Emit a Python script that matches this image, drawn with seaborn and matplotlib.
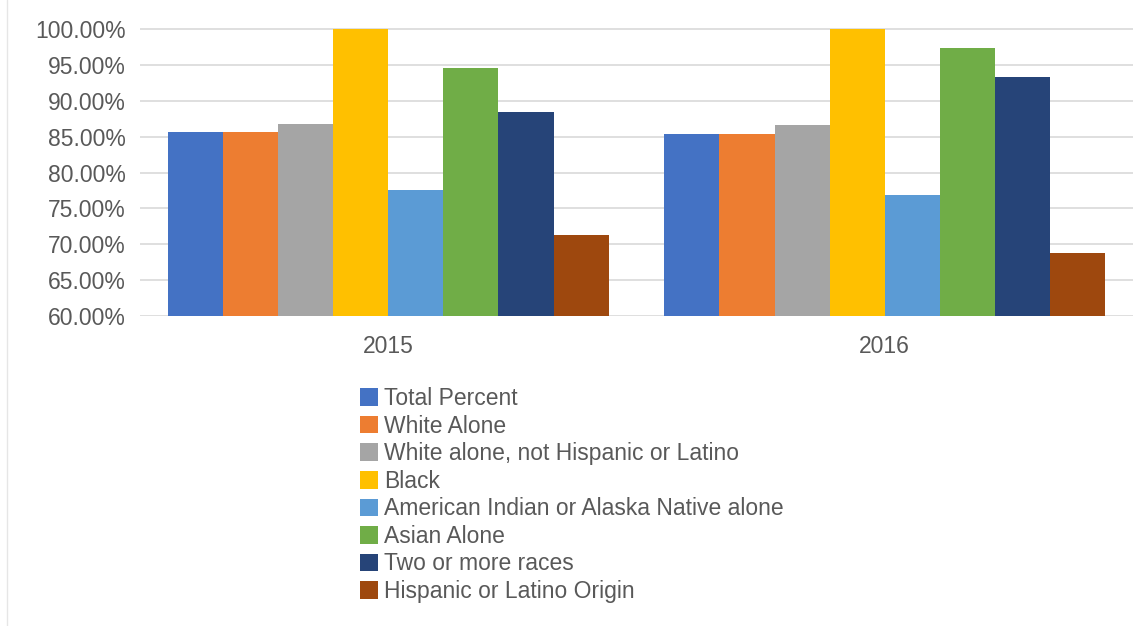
import matplotlib
matplotlib.use("Agg")
import matplotlib.pyplot as plt
import seaborn as sns
import pandas as pd
from matplotlib.lines import Line2D
from matplotlib.ticker import FuncFormatter, MultipleLocator

years = ["2015", "2016"]
groups = [
    "Total Percent",
    "White Alone",
    "White alone, not Hispanic or Latino",
    "Black",
    "American Indian or Alaska Native alone",
    "Asian Alone",
    "Two or more races",
    "Hispanic or Latino Origin",
]
values_2015 = [85.6, 85.7, 86.7, 100.0, 77.5, 94.6, 88.4, 71.3]
values_2016 = [85.3, 85.3, 86.6, 100.0, 76.9, 97.4, 93.3, 68.8]
colors = ["#4472C4", "#ED7D31", "#A5A5A5", "#FFC000", "#5B9BD5", "#70AD47", "#264478", "#9E480E"]

rows = []
for yr, vals in zip(years, [values_2015, values_2016]):
    for g, v in zip(groups, vals):
        rows.append({"year": yr, "group": g, "value": v})
df = pd.DataFrame(rows)

sns.set_theme(style="white")
plt.rcParams["font.family"] = ["Liberation Sans", "DejaVu Sans"]

fig = plt.figure(figsize=(11.43, 6.26), dpi=100)
W, H = 1143, 626
top_px = 28.3
ax = fig.add_axes([140 / W, 1 - 316 / H, (1133 - 140) / W, (316 - top_px) / H])

sns.barplot(data=df, x="year", y="value", hue="group", order=years, hue_order=groups,
            palette=colors, width=0.888, gap=0, dodge=True, saturation=1,
            errorbar=None, ax=ax, legend=True, zorder=3)
for p in ax.patches:
    p.set_edgecolor("none")

ax.set_ylim(60, 100.1)
ax.set_xlim(-0.5, 1.5)
ax.yaxis.set_major_locator(MultipleLocator(5))
ax.yaxis.set_major_formatter(FuncFormatter(lambda v, p: f"{v:.2f}%"))
ax.grid(axis="y", color="#d9d9d9", linewidth=1.2, zorder=0)
ax.set_axisbelow(True)
for s in ax.spines.values():
    s.set_visible(False)
ax.set_xlabel("")
ax.set_ylabel("")
ax.tick_params(axis="y", length=0, pad=10, labelsize=16.5, labelcolor="#595959")
ax.tick_params(axis="x", length=0, pad=13.5, labelsize=16.5, labelcolor="#595959")

handles, labels = ax.get_legend_handles_labels()
ax.legend_.remove()
fig.legend(handles, labels, loc="upper left", bbox_to_anchor=(360 / W, 1 - 387 / H),
           bbox_transform=fig.transFigure, frameon=False, fontsize=16.5,
           handlelength=0.8, handleheight=0.8, handletextpad=0.25,
           labelspacing=0.2, borderpad=0, borderaxespad=0, labelcolor="#595959")

fig.add_artist(Line2D([7 / W, 7 / W], [0, 1], transform=fig.transFigure, color="#e6e6e6", linewidth=1))

fig.savefig("out.png", dpi=100)
